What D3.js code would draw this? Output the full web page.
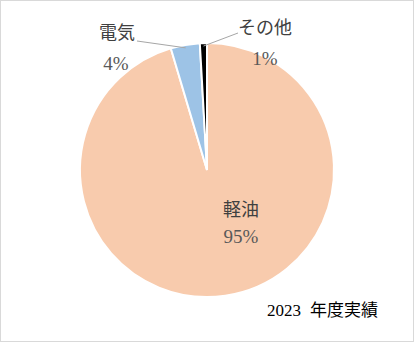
<!DOCTYPE html>
<html>
<head>
<meta charset="utf-8">
<script src="https://cdn.jsdelivr.net/npm/d3@7.9.0/dist/d3.min.js"></script>
<style>
  body { margin: 0; background: #fff; }
</style>
</head>
<body>
<svg width="414" height="345"></svg>
<script>
const categories = ["軽油", "電気", "その他"];
const values = [95.4, 3.7, 0.9];
const pctLabels = ["95%", "4%", "1%"];
const colors = ["#f8cbad", "#9dc3e6", "#000000"];
const captionYear = "2023";
const captionText = "年度実績";

const SANS = "'Noto Sans CJK JP', sans-serif";
const SERIF = "'Liberation Serif', serif";

const svg = d3.select("svg");
svg.append("rect")
  .attr("x", 0.5).attr("y", 0.5)
  .attr("width", 413).attr("height", 341)
  .attr("fill", "#fff").attr("stroke", "#d9d9d9");

const cx = 207, cy = 170, r = 127;
const g = svg.append("g").attr("transform", `translate(${cx},${cy})`);

const pie = d3.pie().sort(null).value(d => d);
const arcs = pie(values);
const arc = d3.arc().innerRadius(0).outerRadius(r);

g.selectAll("path")
  .data(arcs)
  .join("path")
  .attr("d", arc)
  .attr("fill", (d, i) => colors[i])
  .attr("stroke", "#fff")
  .attr("stroke-width", 2);

// leader lines for small slices
const edge = d3.arc().innerRadius(r - 3).outerRadius(r - 3);
const leaders = [null, [-70, -129], [31, -137]];
arcs.forEach((d, i) => {
  if (!leaders[i]) return;
  const p = edge.centroid(d);
  g.append("polyline")
    .attr("points", `${leaders[i][0]},${leaders[i][1]} ${p[0]},${p[1]}`)
    .attr("fill", "none").attr("stroke", "#a6a6a6").attr("stroke-width", 1);
});

// label layout (offsets from pie centre)
const labelPos = [
  { name: [34, 46], pct: [34, 73] },
  { name: [-90, -131], pct: [-91, -100] },
  { name: [58, -136], pct: [58, -105] }
];

arcs.forEach((d, i) => {
  const lp = labelPos[i];
  g.append("text")
    .attr("x", lp.name[0]).attr("y", lp.name[1])
    .attr("text-anchor", "middle")
    .attr("font-family", SANS).attr("font-size", 18).attr("fill", "#404040")
    .text(categories[i]);
  g.append("text")
    .attr("x", lp.pct[0]).attr("y", lp.pct[1])
    .attr("text-anchor", "middle")
    .attr("font-family", SERIF).attr("font-size", 19).attr("fill", "#595959")
    .text(pctLabels[i]);
});

const cap = svg.append("text").attr("x", 267).attr("y", 316)
  .attr("font-size", 17).attr("fill", "#000");
cap.append("tspan").attr("font-family", SERIF).text(captionYear);
cap.append("tspan").attr("font-family", SANS).attr("dx", 9).text(captionText);
</script>
</body>
</html>
